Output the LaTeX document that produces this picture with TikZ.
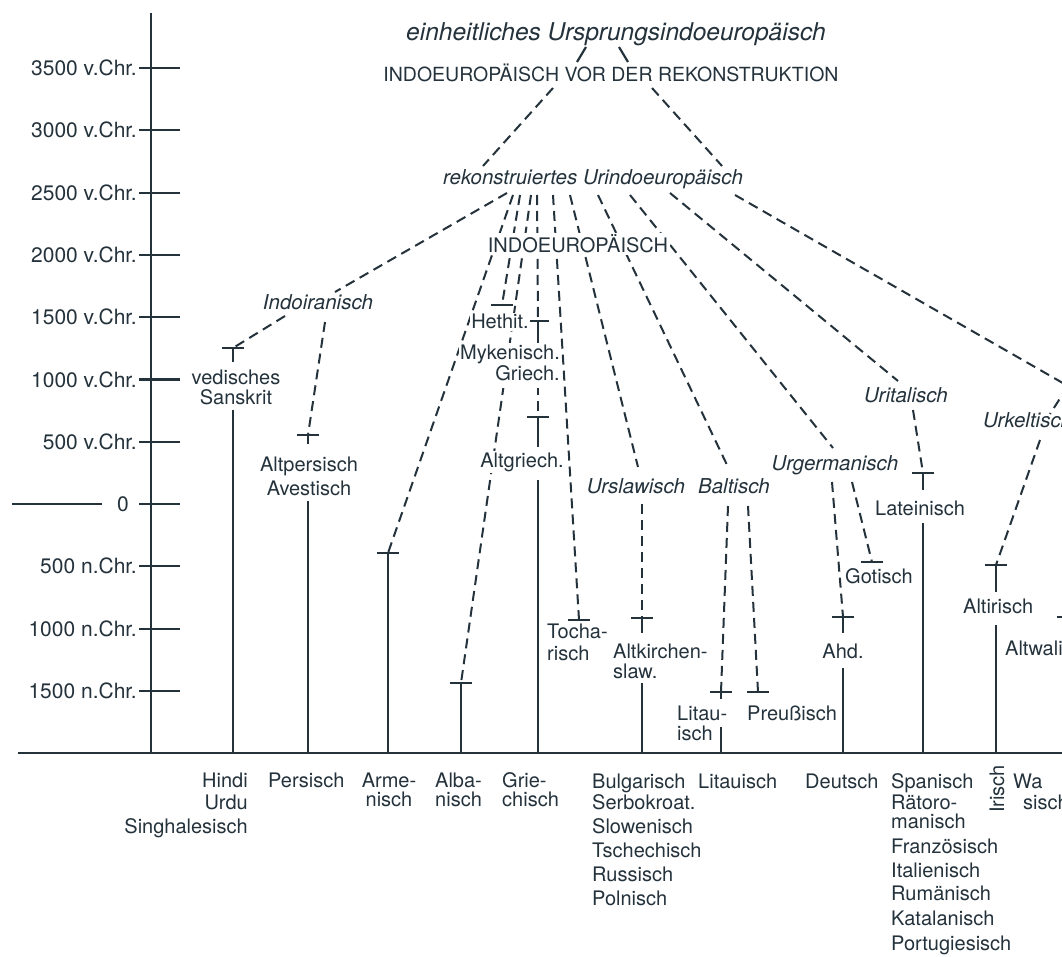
\documentclass[tikz,border=0pt]{standalone}
\usepackage{fontspec}
\setmainfont{TeX Gyre Heros}
\usetikzlibrary{calc}
\definecolor{ink}{RGB}{36,50,60}
% stacked lines of one label, first baseline is the node baseline
\newcommand\lblrows[2]{\begin{tabular}[t]{@{}#1@{}}#2\end{tabular}}
% horizontal bar marking the first attestation of a language
\newcommand\mkbar[1]{\draw[solidln] ($(#1)+(-11,0)$) -- ($(#1)+(11,0)$);}
\begin{document}
\begin{tikzpicture}[x=1pt,y=-1pt,
  txt/.style={inner sep=0pt,text=ink,font=\fontsize{20}{21}\selectfont},
  grp/.style={txt,font=\fontsize{20.5}{21}\selectfont\itshape},
  axlbl/.style={txt,font=\fontsize{21}{21}\selectfont,anchor=base east},
  cover/.style={fill=white,inner sep=1.5pt},
  solidln/.style={draw=ink,line width=2.1pt},
  axisln/.style={draw=ink,line width=2.3pt},
  dashln/.style={draw=ink,line width=2pt,dash pattern=on 10pt off 6pt}]
\useasboundingbox (0,0) rectangle (1062,957);
\clip (0,0) rectangle (1062,957);
\fill[white] (0,0) rectangle (1062,957);

% ---------- time axis ----------
\coordinate (axTop) at (151,13);
\coordinate (axBot) at (151,753);
\coordinate (baseL) at (18,753);
\coordinate (baseR) at (1075,753);
\draw[axisln] (axTop) -- (axBot);
\draw[axisln] (baseL) -- (baseR);
\foreach \k/\yr in {0/{3500 v.Chr.},1/{3000 v.Chr.},2/{2500 v.Chr.},3/{2000 v.Chr.},
                    4/{1500 v.Chr.},5/{1000 v.Chr.},6/{500 v.Chr.},
                    8/{500 n.Chr.},9/{1000 n.Chr.},10/{1500 n.Chr.}}{
  \pgfmathsetmacro\yy{68+62.3*\k}
  \coordinate (tkL\k) at (139,\yy);
  \coordinate (tkR\k) at (180,\yy);
  \draw[solidln] (tkL\k) -- (tkR\k);
  \node[axlbl] (yr\k) at ($(tkL\k)+(-2,7.5)$) {\yr};
}
\coordinate (tkL7) at (139,504.1);
\coordinate (tkR7) at (180,504.1);
\draw[solidln] (tkL7) -- (tkR7);
\node[txt,font=\fontsize{21}{21}\selectfont,anchor=base] (yr7) at (123,511.6) {0};
\coordinate (zeroA) at (12,504.1);
\coordinate (zeroB) at (102,504.1);
\draw[solidln] (zeroA) -- (zeroB);

% ---------- attachment points ----------
\coordinate (tA1) at (586,47);  \coordinate (tA2) at (577,62);
\coordinate (tB1) at (619,47);  \coordinate (tB2) at (628,62);
\coordinate (vA) at (553,88);   \coordinate (rA) at (483,166);
\coordinate (vB) at (652,88);   \coordinate (rB) at (722,166);
\coordinate (rkII) at (507,193);
\coordinate (rkAr) at (513,195);
\coordinate (rkHe) at (520,195);
\coordinate (rkAl) at (531,195);
\coordinate (rkGr) at (537,195);
\coordinate (rkTo) at (553,195);
\coordinate (rkSl) at (570,195);
\coordinate (rkBa) at (598,195);
\coordinate (rkGe) at (630,195);
\coordinate (rkIt) at (670,193);
\coordinate (rkKe) at (735,195);
\coordinate (iiTop) at (335,292);
\coordinate (iiL) at (285,316);
\coordinate (iiR) at (325,322);
\coordinate (slTop) at (638,467);
\coordinate (slBot) at (642,504);
\coordinate (baTop) at (728,467);
\coordinate (baL) at (728,506);
\coordinate (baR) at (748,506);
\coordinate (geTop) at (833,448);
\coordinate (geL) at (832,482);
\coordinate (geR) at (852,482);
\coordinate (itTop) at (898,381);
\coordinate (itBot) at (913,410);
\coordinate (keJoin) at (1068,386);
\coordinate (keTop) at (1050,414);
\coordinate (keBot) at (1040,440);
\coordinate (grMid) at (538,385);

% first attestations
\coordinate (vedT) at (233,348);  \coordinate (vedS) at (233,362);
\coordinate (perT) at (308,435);  \coordinate (perS) at (308,444);
\coordinate (armT) at (388,553);
\coordinate (albT) at (461,683);
\coordinate (hetT) at (502,305);
\coordinate (mykT) at (538,321);  \coordinate (mykS) at (538,343);
\coordinate (agrT) at (538,417);  \coordinate (agrS) at (538,447);
\coordinate (tocT) at (579,620);
\coordinate (slaT) at (642,618);  \coordinate (slaS) at (642,633);
\coordinate (litT) at (721,692);  \coordinate (litS) at (721,699);
\coordinate (preT) at (758,692);
\coordinate (gotT) at (872,562);
\coordinate (ahdT) at (843,617);  \coordinate (ahdS) at (843,633);
\coordinate (latT) at (923,473);  \coordinate (latS) at (923,490);
\coordinate (airT) at (996,565);  \coordinate (airS) at (996,592);
\coordinate (awT) at (1068,617);

% living languages down to the present
\coordinate (sktA) at (233,410);  \coordinate (sktB) at (233,753);
\coordinate (perA) at (308,501);  \coordinate (perB) at (308,753);
\coordinate (armB) at (388,753);
\coordinate (albB) at (461,753);
\coordinate (grA) at (538,480);   \coordinate (grB) at (538,753);
\coordinate (slA) at (642,683);   \coordinate (slB) at (642,753);
\coordinate (ltA) at (721,727);   \coordinate (ltB) at (721,753);
\coordinate (deA) at (843,668);   \coordinate (deB) at (843,753);
\coordinate (laA) at (923,523);   \coordinate (laB) at (923,753);
\coordinate (irA) at (996,625);   \coordinate (irB) at (996,753);

% ---------- reconstructed descent (dashed) ----------
\draw[dashln] (vA) -- (rA);
\draw[dashln] (vB) -- (rB);
\draw[dashln] (rkII) -- (iiTop);
\draw[dashln] (rkAr) -- (armT);
\draw[dashln] (rkHe) -- (hetT);
\draw[dashln] (rkAl) -- (albT);
\draw[dashln] (rkGr) -- (mykT);
\draw[dashln] (rkTo) -- (tocT);
\draw[dashln] (rkSl) -- (slTop);
\draw[dashln] (rkBa) -- (baTop);
\draw[dashln] (rkGe) -- (geTop);
\draw[dashln] (rkIt) -- (itTop);
\draw[dashln] (rkKe) -- (keJoin) -- (keTop);
\draw[dashln] (iiL) -- (vedT);
\draw[dashln] (iiR) -- (perT);
\draw[dashln] (grMid) -- (agrT);
\draw[dashln] (slBot) -- (slaT);
\draw[dashln] (baL) -- (litT);
\draw[dashln] (baR) -- (preT);
\draw[dashln] (geL) -- (ahdT);
\draw[dashln] (geR) -- (gotT);
\draw[dashln] (itBot) -- (latT);
\draw[dashln] (keBot) -- (airT);

% ---------- attested stages (solid) ----------
\foreach \p in {vedT,perT,armT,albT,hetT,mykT,agrT,tocT,slaT,litT,preT,gotT,ahdT,latT,airT,awT}{\mkbar{\p}}
\draw[solidln] (vedT) -- (vedS);
\draw[solidln] (perT) -- (perS);
\draw[solidln] (mykT) -- (mykS);
\draw[solidln] (agrT) -- (agrS);
\draw[solidln] (slaT) -- (slaS);
\draw[solidln] (litT) -- (litS);
\draw[solidln] (ahdT) -- (ahdS);
\draw[solidln] (latT) -- (latS);
\draw[solidln] (airT) -- (airS);
\draw[solidln] (sktA) -- (sktB);
\draw[solidln] (perA) -- (perB);
\draw[solidln] (armT) -- (armB);
\draw[solidln] (albT) -- (albB);
\draw[solidln] (grA) -- (grB);
\draw[solidln] (slA) -- (slB);
\draw[solidln] (ltA) -- (ltB);
\draw[solidln] (deA) -- (deB);
\draw[solidln] (laA) -- (laB);
\draw[solidln] (irA) -- (irB);

% ---------- labels of the tree ----------
\node[txt,font=\fontsize{24.5}{25}\selectfont\itshape,anchor=base] (orig) at (616,41) {einheitliches Ursprungsindoeuropäisch};
\node[txt,font=\fontsize{19.5}{21}\selectfont,anchor=base] (vor) at (611,82) {INDOEUROPÄISCH VOR DER REKONSTRUKTION};
\node[grp,anchor=base] (rekon) at (593,185) {rekonstruiertes Urindoeuropäisch};
\node[txt,cover,anchor=base] (ie) at (578,253) {INDOEUROPÄISCH};
\node[grp,anchor=base] (indoir) at (318,310) {Indoiranisch};
\node[grp,anchor=base] (urslaw) at (636,493) {Urslawisch};
\node[grp,anchor=base] (baltic) at (734,493) {Baltisch};
\node[grp,anchor=base] (urgerm) at (835,470) {Urgermanisch};
\node[grp,anchor=base] (urital) at (906,402) {Uritalisch};
\node[grp,anchor=base west] (urkelt) at (983,427) {Urkeltisch};

% the two short strokes between the two top headings
\draw[solidln,line width=2.2pt] (tA1) -- (tA2);
\draw[solidln,line width=2.2pt] (tB1) -- (tB2);

\node[txt,anchor=base] (vedic) at (236,384) {\lblrows{c}{vedisches\\[-1pt]Sanskrit}};
\node[txt,anchor=base] (altpers) at (309,471) {\lblrows{c}{Altpersisch\\[3pt]Avestisch}};
\node[txt,cover,anchor=base] (hethit) at (500,329) {Hethit.};
\node[txt,cover,anchor=base east] (myk) at (561.5,359) {\lblrows{r}{Mykenisch.\\Griech.}};
\node[txt,cover,anchor=base] (altgr) at (522,467) {Altgriech.};
\node[txt,anchor=base west] (tochar) at (547,638) {\lblrows{l}{Tocha-\\[1pt]risch}};
\node[txt,anchor=base west] (aksl) at (613,658) {\lblrows{l}{Altkirchen-\\[-1pt]slaw.}};
\node[txt,anchor=base west] (litau) at (677,720) {\lblrows{l}{Litau-\\[-1pt]isch}};
\node[txt,anchor=base west] (preuss) at (747,720) {Preußisch};
\node[txt,anchor=base west] (gotic) at (845,583) {Gotisch};
\node[txt,anchor=base] (ahd) at (843,658) {Ahd.};
\node[txt,anchor=base west] (latin) at (875,515) {Lateinisch};
\node[txt,anchor=base west] (oir) at (963,613) {Altirisch};
\node[txt,anchor=base west] (owel) at (1005,655) {Altwalisch};

% ---------- present-day languages ----------
\node[txt,anchor=base east] (hindi) at (248,787) {\lblrows{r}{Hindi\\[1pt]Urdu\\[3pt]Singhalesisch}};
\node[txt,anchor=base west] (persian) at (268,787) {Persisch};
\node[txt,anchor=base] (armen) at (389,787) {\lblrows{c}{Arme-\\[-2pt]nisch}};
\node[txt,anchor=base west] (alban) at (435,787) {\lblrows{l}{Alba-\\[-2pt]nisch}};
\node[txt,anchor=base west] (greek) at (502,787) {\lblrows{l}{Grie-\\[-2pt]chisch}};
\node[txt,anchor=base west] (slavic) at (592,788) {\lblrows{l}{Bulgarisch\\Serbokroat.\\[3pt]Slowenisch\\[3pt]Tschechisch\\[3pt]Russisch\\[3pt]Polnisch}};
\node[txt,anchor=base west] (lithu) at (698,788) {Litauisch};
\node[txt,anchor=base west] (german) at (805,788) {Deutsch};
\node[txt,anchor=base west] (roman) at (891,788) {\lblrows{l}{Spanisch\\Rätoro-\\[-2pt]manisch\\[4pt]Französisch\\[3pt]Italienisch\\[2pt]Rumänisch\\[4pt]Katalanisch\\[4pt]Portugiesisch}};
\node[txt,rotate=90,anchor=center] (irish) at (997,789) {Irisch};
\node[txt,anchor=base west] (welsh) at (1013,788) {\lblrows{l}{Wa\\\hspace*{10pt}sisch}};
\end{tikzpicture}
\end{document}
